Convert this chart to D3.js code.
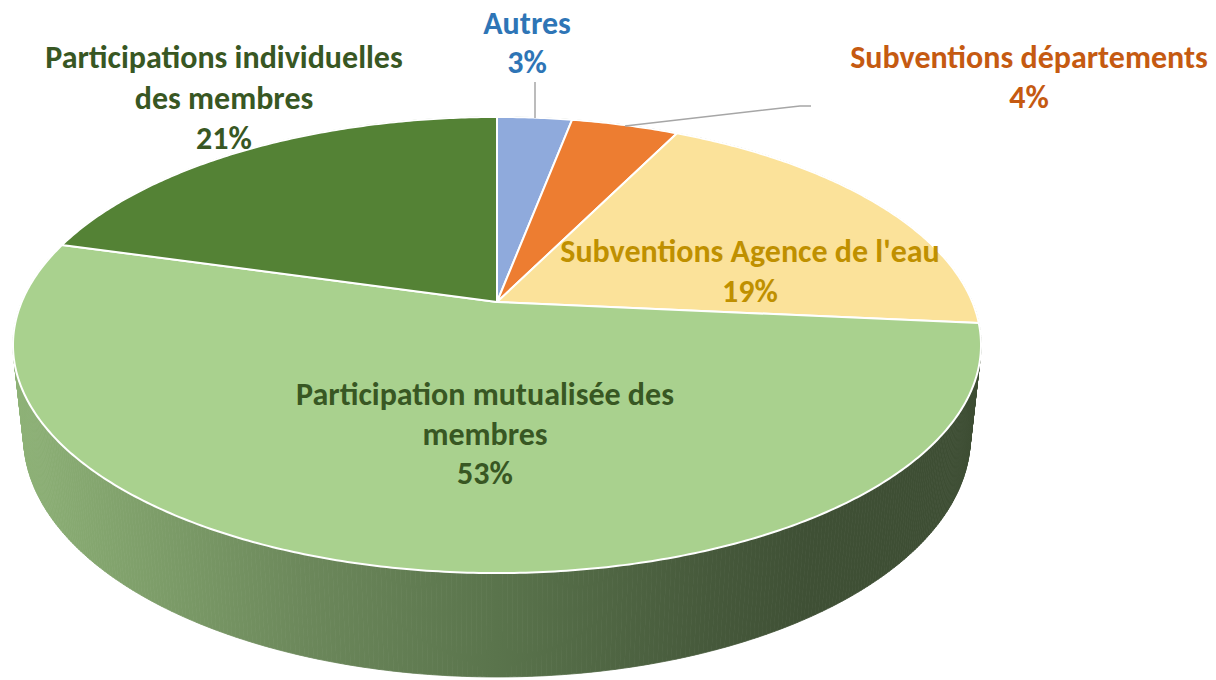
<!DOCTYPE html>
<html>
<head>
<meta charset="utf-8">
<script src="https://cdn.jsdelivr.net/npm/d3@7"></script>
<style>
  html, body { margin: 0; padding: 0; background: #fff; }
  svg { display: block; }
  .lbl { font-family: Carlito, Calibri, Lato, sans-serif; font-weight: 700; font-size: 32px; }
</style>
</head>
<body>
<svg id="chart" width="1216" height="680"></svg>
<script>
// data
const categories = [
  "Autres",
  "Subventions départements",
  "Subventions Agence de l'eau",
  "Participation mutualisée des membres",
  "Participations individuelles des membres"
];
const values = [3.0, 4.3, 19.2, 52.9, 20.6];
const sliceColors = ["#8faadc", "#ed7d31", "#fbe29a", "#a9d18e", "#548235"];
const labelColors = ["#2e75b6", "#c55a11", "#bf9000", "#385723", "#385723"];
const labelLines = [
  ["Autres"],
  ["Subventions départements"],
  ["Subventions Agence de l'eau"],
  ["Participation mutualisée des", "membres"],
  ["Participations individuelles", "des membres"]
];

// layout: label anchor (centre x, first baseline y), line step
const labelPos = [
  [527, 34, 38.5],
  [1029, 68, 40],
  [750, 262, 39.5],
  [485, 405, 39.5],
  [224, 68, 40.5]
];

const svg = d3.select("#chart");

// 3D projection of the pie (tilted disc seen in perspective)
const cx = 497, cy = 302;
const tilt = Math.asin(0.4627);
const D = 4.70, f = 2234, H = 0.2193;
function proj(a, level) {
  const x = Math.sin(a), z = Math.cos(a), y = level ? -H : 0;
  const up = y * Math.cos(tilt) + z * Math.sin(tilt);
  const depth = D + z * Math.cos(tilt) - y * Math.sin(tilt);
  return [cx + f * x / depth, cy - f * up / depth];
}

const pie = d3.pie().sort(null).value(d => d)(values);
const total = d3.sum(values);
const pct = v => Math.round(v / total * 100) + "%";

const defs = svg.append("defs");
const grad = defs.append("linearGradient")
  .attr("id", "sideGrad")
  .attr("gradientUnits", "userSpaceOnUse")
  .attr("x1", 13).attr("x2", 981).attr("y1", 0).attr("y2", 0);
[[0, "#8eb277"], [0.3, "#6c885b"], [0.5, "#5a744c"], [0.72, "#46593b"], [0.82, "#3f5035"], [1, "#3d4d33"]]
  .forEach(([o, c]) => grad.append("stop").attr("offset", o).attr("stop-color", c));

// outer wall, drawn as thin quads
const step = Math.PI / 360;
const quads = d3.range(0, 2 * Math.PI, step).map(a => [
  proj(a, 0), proj(a + step, 0), proj(a + step, 1), proj(a, 1)
]);
svg.append("g").selectAll("path")
  .data(quads)
  .join("path")
  .attr("d", d => "M" + d.join("L") + "Z")
  .attr("fill", "url(#sideGrad)")
  .attr("stroke", "url(#sideGrad)")
  .attr("stroke-width", 0.8);

// top face slices
function slicePath(d) {
  const n = Math.max(2, Math.ceil((d.endAngle - d.startAngle) / 0.01));
  const pts = d3.range(n + 1).map(i => proj(d.startAngle + (d.endAngle - d.startAngle) * i / n, 0));
  return "M" + [cx, cy] + "L" + pts.join("L") + "Z";
}
svg.append("g").selectAll("path")
  .data(pie)
  .join("path")
  .attr("d", slicePath)
  .attr("fill", (d, i) => sliceColors[i])
  .attr("stroke", "#fff")
  .attr("stroke-width", 2)
  .attr("stroke-linejoin", "round");

// leader lines
const leaders = [
  [[535, 82], [535, 118]],
  [[625, 126], [800, 106], [811, 106]]
];
svg.append("g").selectAll("path")
  .data(leaders)
  .join("path")
  .attr("d", d => "M" + d.join("L"))
  .attr("fill", "none")
  .attr("stroke", "#a6a6a6")
  .attr("stroke-width", 1.5);

// labels
const lg = svg.append("g");
pie.forEach((d, i) => {
  const [x, y, dy] = labelPos[i];
  const t = lg.append("text")
    .attr("class", "lbl")
    .attr("text-anchor", "middle")
    .attr("fill", labelColors[i]);
  labelLines[i].concat([pct(d.data)]).forEach((s, j) => {
    t.append("tspan").attr("x", x).attr("y", y + j * dy).text(s);
  });
});
</script>
</body>
</html>
